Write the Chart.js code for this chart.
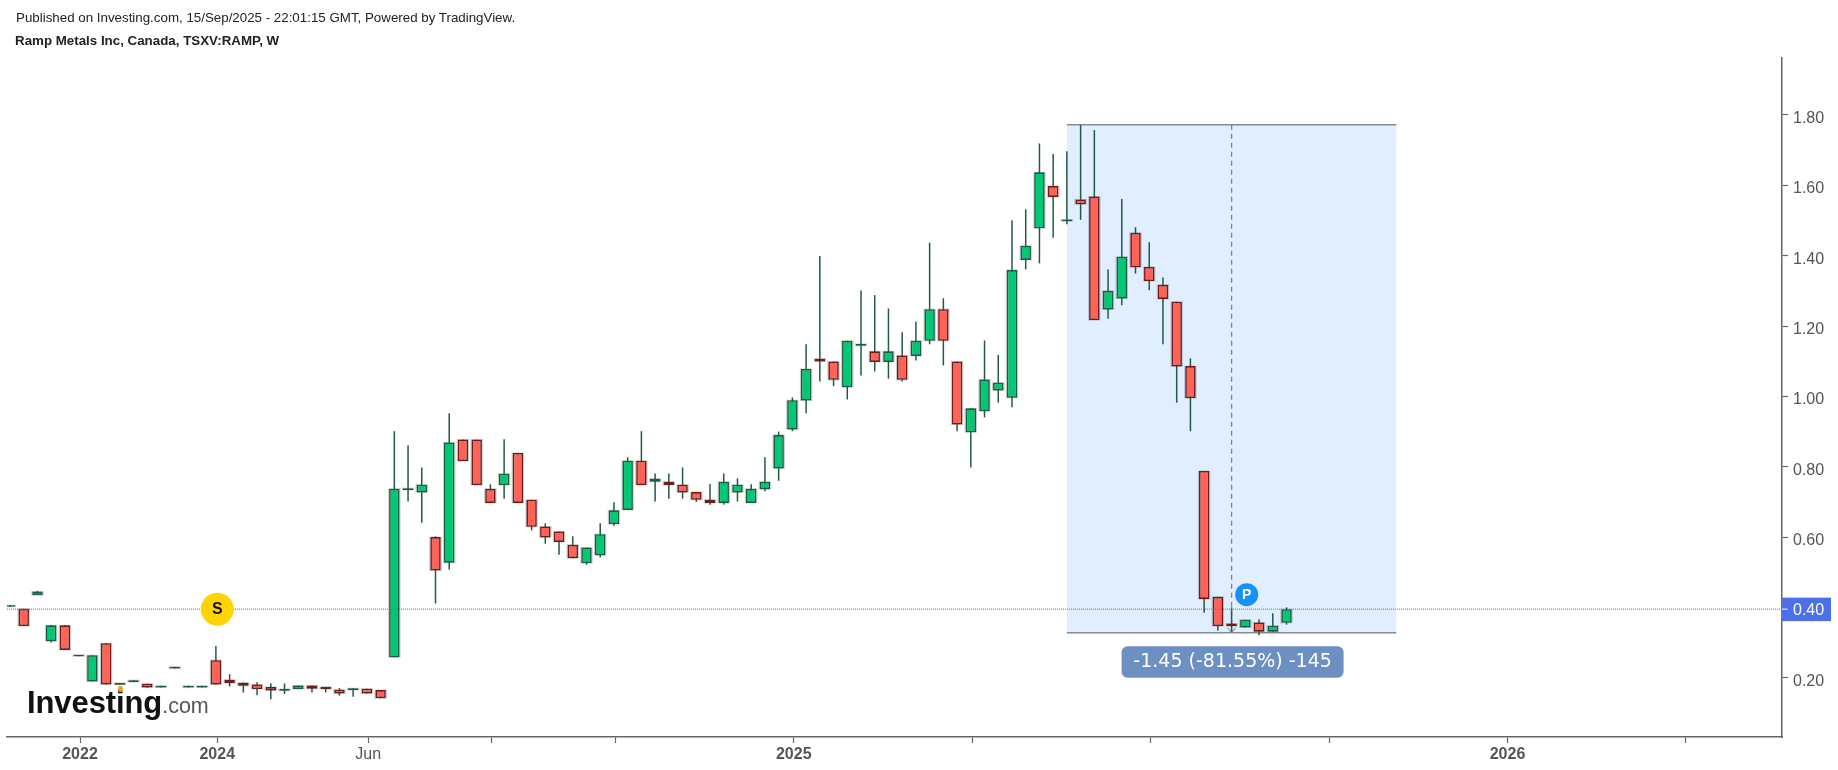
<!DOCTYPE html>
<html>
<head>
<meta charset="utf-8">
<style>
html,body{margin:0;padding:0;background:#fff;width:1838px;height:770px;overflow:hidden}
#wrap{position:relative;width:1838px;height:770px}
canvas{position:absolute;left:0;top:0}
.t{position:absolute;white-space:nowrap;font-family:"Liberation Sans",Arial,sans-serif;color:#222}
</style>
<script src="https://cdn.jsdelivr.net/npm/chart.js@4"></script>
</head>
<body>
<div id="wrap">
<canvas id="c" width="1838" height="770"></canvas>
<div class="t" style="left:16px;top:10px;font-size:13.33px">Published on Investing.com, 15/Sep/2025 - 22:01:15 GMT, Powered by TradingView.</div>
<div class="t" style="left:15px;top:33px;font-size:13.33px;font-weight:bold">Ramp Metals Inc, Canada, TSXV:RAMP, W</div>
<div class="t" style="left:27px;top:685px;font-size:31px;font-weight:bold;color:#111;letter-spacing:-0.1px;filter:blur(0.5px)">Investing<span style="font-size:21.5px;font-weight:normal;color:#555;letter-spacing:0">.com</span></div>
<div style="position:absolute;left:118px;top:686px;width:5px;height:6px;border-radius:50%;background:#f59a23"></div>
</div>
<script>
const open_ = [0.402,0.396,0.435,0.304,0.349,0.261,0.189,0.298,0.180,0.188,0.183,0.172,0.226,0.172,0.172,0.250,0.194,0.186,0.181,0.174,0.163,0.168,0.178,0.174,0.166,0.165,0.169,0.165,0.258,0.734,0.727,0.600,0.527,0.877,0.877,0.737,0.748,0.839,0.706,0.630,0.616,0.578,0.526,0.548,0.637,0.677,0.817,0.757,0.757,0.749,0.728,0.706,0.697,0.727,0.697,0.736,0.795,0.906,0.988,1.107,1.099,1.026,1.144,1.128,1.098,1.116,1.115,1.158,1.248,1.099,0.898,0.958,1.017,0.996,1.388,1.478,1.598,1.498,1.560,1.568,1.247,1.278,1.465,1.368,1.317,1.269,1.086,0.788,0.430,0.354,0.343,0.357,0.331,0.356];
const close_ = [0.406,0.347,0.445,0.349,0.279,0.265,0.264,0.181,0.185,0.193,0.172,0.177,0.231,0.177,0.177,0.181,0.185,0.177,0.168,0.164,0.168,0.178,0.169,0.168,0.155,0.170,0.155,0.142,0.737,0.739,0.749,0.505,0.869,0.816,0.748,0.697,0.780,0.697,0.629,0.599,0.586,0.540,0.570,0.608,0.676,0.817,0.748,0.766,0.748,0.727,0.706,0.697,0.757,0.749,0.737,0.757,0.890,0.989,1.078,1.099,1.047,1.158,1.149,1.098,1.128,1.047,1.158,1.248,1.158,0.920,0.966,1.048,1.039,1.359,1.428,1.637,1.567,1.503,1.546,1.217,1.300,1.397,1.367,1.328,1.277,1.085,0.995,0.424,0.347,0.347,0.365,0.331,0.348,0.395];
const high_ = [0.406,0.396,0.447,0.349,0.349,0.265,0.264,0.298,0.185,0.193,0.183,0.177,0.231,0.177,0.177,0.290,0.210,0.186,0.187,0.184,0.184,0.178,0.178,0.174,0.171,0.170,0.169,0.165,0.901,0.861,0.798,0.602,0.952,0.877,0.877,0.750,0.878,0.839,0.706,0.639,0.616,0.602,0.570,0.639,0.699,0.827,0.901,0.781,0.781,0.798,0.728,0.751,0.781,0.767,0.750,0.827,0.900,0.997,1.148,1.399,1.099,1.158,1.301,1.288,1.250,1.182,1.212,1.437,1.279,1.099,0.966,1.159,1.118,1.501,1.532,1.719,1.689,1.697,1.772,1.757,1.361,1.561,1.481,1.438,1.338,1.269,1.108,0.788,0.430,0.400,0.365,0.366,0.383,0.400];
const low_ = [0.402,0.347,0.435,0.300,0.279,0.261,0.189,0.181,0.180,0.188,0.172,0.172,0.226,0.172,0.172,0.181,0.175,0.158,0.150,0.139,0.154,0.168,0.158,0.158,0.149,0.146,0.155,0.142,0.258,0.701,0.641,0.411,0.508,0.816,0.748,0.697,0.709,0.697,0.619,0.581,0.550,0.540,0.521,0.542,0.632,0.677,0.748,0.701,0.709,0.709,0.700,0.692,0.692,0.701,0.697,0.730,0.760,0.901,0.952,1.042,1.029,0.991,1.059,1.071,1.050,1.042,1.102,1.148,1.088,0.901,0.798,0.940,0.982,0.969,1.361,1.378,1.451,1.489,1.502,1.217,1.221,1.259,1.349,1.302,1.148,0.982,0.901,0.385,0.334,0.331,0.343,0.321,0.331,0.351];
const barIndex = open_.map((_, i) => i);

const xTickIndex = [5.1,15.1,26.1,35.1,44.1,57.1,70.1,83.1,96.1,109.1,122.1];
const xTickLabels = ["2022","2024","Jun","","","2025","","","","2026",""];
const yTickValues = [0.2,0.4,0.6,0.8,1.0,1.2,1.4,1.6,1.8];
const lastPrice = 0.395;
const lastPriceLabel = "0.40";
const rangeStart = 77, rangeMid = 89, rangeEnd = 101;
const rangeTop = 1.7724, rangeBottom = 0.3281;
const rangeText = "-1.45 (-81.55%) -145";
const sMark = {x:15.1, y:0.395};
const pMark = {x:90.1, y:0.436};
const xMin = -0.219, xMax = 129.1, yMin = 0.0315, yMax = 1.962;

const wicks = barIndex.map(i => ({x:i, y:[low_[i], high_[i]]}));
const bodies = barIndex.map(i => ({x:i, y:[open_[i], close_[i]]}));
const isUp = c => close_[c.dataIndex] >= open_[c.dataIndex];

const overlay = {
  id:'overlay',
  beforeDatasetsDraw(chart){
    const {ctx, scales:{x,y}} = chart;
    const l=x.getPixelForValue(rangeStart), r=x.getPixelForValue(rangeEnd);
    const t=y.getPixelForValue(rangeTop), b=y.getPixelForValue(rangeBottom);
    ctx.save();
    ctx.fillStyle='#e1eeff';
    ctx.fillRect(l,t,r-l,b-t);
    ctx.strokeStyle='#858a90'; ctx.lineWidth=1.4;
    ctx.beginPath();ctx.moveTo(l,t);ctx.lineTo(r,t);ctx.moveTo(l,b);ctx.lineTo(r,b);ctx.stroke();
    const m=x.getPixelForValue(rangeMid);
    ctx.setLineDash([5,4]);ctx.lineWidth=1.3;ctx.strokeStyle='#7d8388';
    ctx.beginPath();ctx.moveTo(m,t);ctx.lineTo(m,b);ctx.stroke();
    ctx.setLineDash([]);ctx.lineWidth=1;
    ctx.beginPath();ctx.moveTo(m-4,b-5);ctx.lineTo(m,b);ctx.lineTo(m+4,b-5);ctx.stroke();
    ctx.restore();
  },
  afterDatasetsDraw(chart){
    const {ctx, scales:{x,y}} = chart;
    ctx.save();
    ctx.textAlign='center';ctx.textBaseline='middle';
    let px=x.getPixelForValue(sMark.x), py=y.getPixelForValue(sMark.y);
    ctx.fillStyle='#ffd500';ctx.beginPath();ctx.arc(px,py,16.5,0,Math.PI*2);ctx.fill();
    ctx.fillStyle='#111';ctx.font='bold 16px "Liberation Sans",Arial,sans-serif';ctx.fillText('S',px,py+0.5);
    px=x.getPixelForValue(pMark.x); py=y.getPixelForValue(pMark.y);
    ctx.fillStyle='#1592f5';ctx.beginPath();ctx.arc(px,py,11.5,0,Math.PI*2);ctx.fill();
    ctx.fillStyle='#fff';ctx.font='bold 14px "Liberation Sans",Arial,sans-serif';ctx.fillText('P',px,py+0.5);
    const mid=x.getPixelForValue(rangeMid)+1, b=y.getPixelForValue(rangeBottom);
    ctx.fillStyle='#6d8fc2';ctx.beginPath();ctx.roundRect(mid-111,b+13.5,222,31.5,6);ctx.fill();
    ctx.fillStyle='#fff';ctx.font='19px "DejaVu Sans",sans-serif';ctx.fillText(rangeText,mid,b+29.5);
    const ly=y.getPixelForValue(lastPrice), ax=x.right;
    ctx.fillStyle='#4c70e8';ctx.fillRect(ax-1,ly-11.5,50,23.5);
    ctx.fillStyle='#fff';ctx.fillRect(ax,ly-0.5,5.5,1);
    ctx.font='16px "Liberation Sans",Arial,sans-serif';ctx.textAlign='left';ctx.fillText(lastPriceLabel,ax+11,ly+1);
    ctx.restore();
  }
};

new Chart(document.getElementById('c'),{
  type:'bar',
  data:{datasets:[
    {type:'line',data:[{x:xMin,y:lastPrice},{x:xMax,y:lastPrice}],borderColor:'#4a68e6',borderWidth:1,borderDash:[1,1],pointRadius:0,order:1},
    {data:bodies,barThickness:10.4,grouped:false,borderSkipped:false,inflateAmount:0,borderWidth:1.6,
      backgroundColor:c=>isUp(c)?'#00c875':'#ff6358',borderColor:c=>isUp(c)?'#1c5c42':'#6e1c1c',order:2},
    {data:bodies,barThickness:11.4,grouped:false,borderSkipped:false,inflateAmount:0.5,borderWidth:0,
      backgroundColor:'rgba(70,85,80,0.3)',order:3},
    {data:wicks,barThickness:1.5,grouped:false,borderSkipped:false,inflateAmount:0,borderWidth:0,backgroundColor:'#215c42',order:4}
  ]},
  options:{
    responsive:false,animation:false,devicePixelRatio:1,
    layout:{padding:{left:7,top:58,right:0,bottom:0}},
    plugins:{legend:{display:false},tooltip:{enabled:false},title:{display:false}},
    scales:{
      x:{type:'linear',offset:false,min:xMin,max:xMax,
        afterBuildTicks(a){a.ticks=xTickIndex.map(v=>({value:v}));},
        afterFit(a){a.height=33;},
        grid:{offset:false,drawOnChartArea:false,drawTicks:true,tickLength:6,tickColor:'#666',tickWidth:1.2},
        border:{color:'#666',width:1.5},
        ticks:{autoSkip:false,maxRotation:0,padding:2,color:'#555',
          font:c=>({family:'"Liberation Sans",Arial,sans-serif',size:16,weight:(c.tick&&c.tick.value===26.1)?'normal':'bold'}),
          callback:v=>{const k=xTickIndex.indexOf(v);return k<0?'':xTickLabels[k];}}
      },
      y:{type:'linear',position:'right',min:yMin,max:yMax,
        afterBuildTicks(a){a.ticks=yTickValues.map(v=>({value:v}));},
        afterFit(a){a.width=56;},
        grid:{drawOnChartArea:false,drawTicks:true,tickLength:6,tickColor:'#666',tickWidth:1.2},
        border:{color:'#666',width:1.5},
        ticks:{autoSkip:false,padding:5,labelOffset:3.5,color:'#555',font:{family:'"Liberation Sans",Arial,sans-serif',size:16},
          callback:v=>Number(v).toFixed(2)}
      }
    }
  },
  plugins:[overlay]
});
</script>
</body>
</html>
